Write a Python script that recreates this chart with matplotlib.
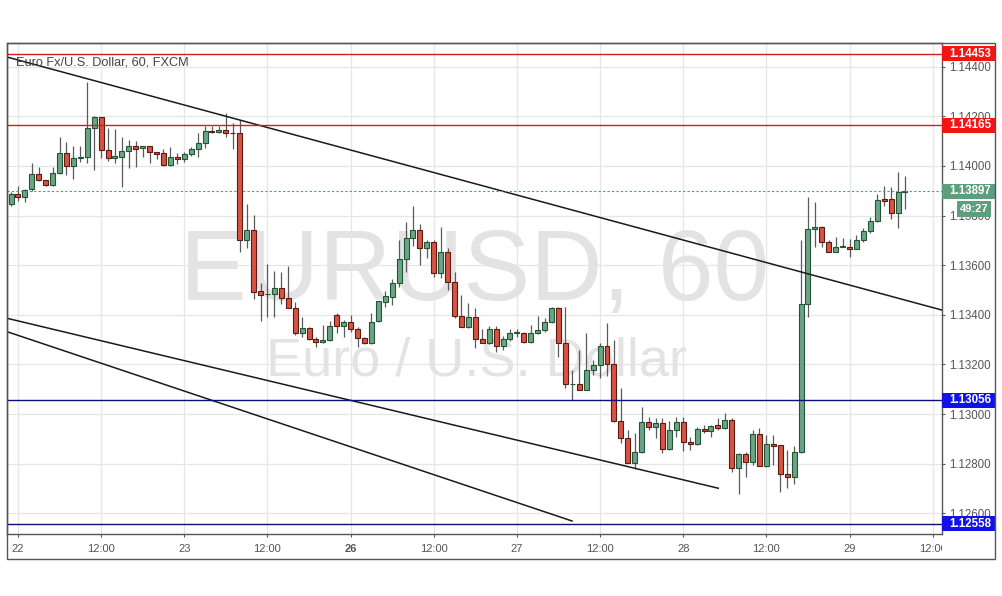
import numpy as np
import matplotlib

matplotlib.use('Agg')

from matplotlib import pyplot as plt
from matplotlib.patches import Rectangle
from matplotlib.transforms import Bbox, TransformedBbox, blended_transform_factory

plt.rcParams['font.family'] = ['Liberation Sans', 'DejaVu Sans']

# hourly EUR/USD candles, 21 23:00 .. 29 08:00
opens = [1.13847, 1.13886, 1.13874, 1.13906, 1.13966, 1.13943, 1.13922, 1.13970, 1.14051, 1.14001,
         1.14032, 1.14035, 1.14152, 1.14196, 1.14064, 1.14031, 1.14037, 1.14060, 1.14080, 1.14071,
         1.14080, 1.14056, 1.14051, 1.14003, 1.14037, 1.14027, 1.14047, 1.14067, 1.14091, 1.14142,
         1.14137, 1.14145, 1.14132, 1.14132, 1.13701, 1.13742, 1.13494, 1.13482, 1.13483, 1.13507,
         1.13467, 1.13426, 1.13325, 1.13346, 1.13302, 1.13289, 1.13298, 1.13398, 1.13355, 1.13372,
         1.13342, 1.13305, 1.13285, 1.13374, 1.13453, 1.13473, 1.13527, 1.13624, 1.13708, 1.13742,
         1.13668, 1.13692, 1.13567, 1.13652, 1.13531, 1.13396, 1.13350, 1.13390, 1.13301, 1.13285,
         1.13342, 1.13276, 1.13301, 1.13327, 1.13328, 1.13289, 1.13325, 1.13337, 1.13370, 1.13426,
         1.13288, 1.13120, 1.13120, 1.13097, 1.13178, 1.13198, 1.13274, 1.13202, 1.12972, 1.12902,
         1.12804, 1.12848, 1.12969, 1.12947, 1.12963, 1.12858, 1.12936, 1.12969, 1.12886, 1.12878,
         1.12938, 1.12930, 1.12956, 1.12942, 1.12976, 1.12781, 1.12838, 1.12805, 1.12919, 1.12792,
         1.12878, 1.12875, 1.12758, 1.12748, 1.12846, 1.13442, 1.13745, 1.13753, 1.13692, 1.13654,
         1.13674, 1.13674, 1.13664, 1.13701, 1.13738, 1.13778, 1.13867, 1.13865, 1.13809, 1.13896]
highs = [1.13895, 1.13920, 1.13907, 1.14012, 1.13997, 1.13943, 1.13997, 1.14118, 1.14098, 1.14082,
         1.14082, 1.14340, 1.14201, 1.14196, 1.14152, 1.14148, 1.14115, 1.14105, 1.14102, 1.14080,
         1.14080, 1.14056, 1.14067, 1.14078, 1.14051, 1.14055, 1.14078, 1.14132, 1.14161, 1.14162,
         1.14162, 1.14212, 1.14172, 1.14185, 1.13847, 1.13802, 1.13527, 1.13605, 1.13578, 1.13571,
         1.13598, 1.13453, 1.13392, 1.13352, 1.13309, 1.13359, 1.13376, 1.13406, 1.13379, 1.13399,
         1.13352, 1.13309, 1.13406, 1.13457, 1.13497, 1.13543, 1.13701, 1.13773, 1.13839, 1.13765,
         1.13701, 1.13701, 1.13755, 1.13668, 1.13574, 1.13480, 1.13446, 1.13426, 1.13342, 1.13355,
         1.13355, 1.13316, 1.13342, 1.13342, 1.13332, 1.13359, 1.13395, 1.13386, 1.13430, 1.13433,
         1.13433, 1.13178, 1.13258, 1.13325, 1.13218, 1.13288, 1.13368, 1.13298, 1.13104, 1.12936,
         1.12922, 1.13030, 1.12989, 1.12983, 1.12983, 1.12973, 1.12989, 1.12989, 1.12909, 1.12947,
         1.12956, 1.12956, 1.12983, 1.13005, 1.12983, 1.12842, 1.12848, 1.12936, 1.12942, 1.12915,
         1.12915, 1.12875, 1.12855, 1.12871, 1.13701, 1.13876, 1.13856, 1.13758, 1.13701, 1.13715,
         1.13708, 1.13705, 1.13722, 1.13749, 1.13795, 1.13887, 1.13920, 1.13916, 1.13977, 1.13959]
lows = [1.13839, 1.13859, 1.13856, 1.13900, 1.13940, 1.13920, 1.13920, 1.13968, 1.13964, 1.13946,
        1.14016, 1.14013, 1.13984, 1.14031, 1.14021, 1.14013, 1.13914, 1.13993, 1.13997, 1.14037,
        1.14013, 1.14029, 1.14000, 1.14000, 1.14009, 1.14016, 1.14041, 1.14037, 1.14071, 1.14134,
        1.14132, 1.14115, 1.14069, 1.13654, 1.13668, 1.13464, 1.13376, 1.13392, 1.13392, 1.13444,
        1.13426, 1.13319, 1.13312, 1.13298, 1.13271, 1.13285, 1.13296, 1.13325, 1.13312, 1.13332,
        1.13269, 1.13282, 1.13282, 1.13371, 1.13430, 1.13440, 1.13513, 1.13574, 1.13677, 1.13601,
        1.13628, 1.13552, 1.13547, 1.13500, 1.13386, 1.13350, 1.13346, 1.13265, 1.13285, 1.13282,
        1.13251, 1.13258, 1.13296, 1.13312, 1.13288, 1.13288, 1.13323, 1.13331, 1.13367, 1.13231,
        1.13104, 1.13057, 1.13097, 1.13097, 1.13157, 1.13144, 1.13153, 1.12969, 1.12882, 1.12802,
        1.12777, 1.12844, 1.12936, 1.12902, 1.12844, 1.12855, 1.12909, 1.12852, 1.12855, 1.12875,
        1.12922, 1.12909, 1.12936, 1.12938, 1.12768, 1.12678, 1.12747, 1.12795, 1.12792, 1.12785,
        1.12795, 1.12687, 1.12701, 1.12718, 1.12842, 1.13392, 1.13674, 1.13674, 1.13654, 1.13654,
        1.13672, 1.13632, 1.13664, 1.13695, 1.13731, 1.13773, 1.13839, 1.13785, 1.13751, 1.13826]
closes = [1.13887, 1.13874, 1.13904, 1.13966, 1.13943, 1.13922, 1.13970, 1.14051, 1.14001, 1.14031,
          1.14036, 1.14152, 1.14196, 1.14064, 1.14031, 1.14040, 1.14060, 1.14080, 1.14069, 1.14080,
          1.14055, 1.14049, 1.14003, 1.14035, 1.14027, 1.14047, 1.14068, 1.14091, 1.14141, 1.14136,
          1.14145, 1.14132, 1.14131, 1.13701, 1.13742, 1.13493, 1.13479, 1.13484, 1.13507, 1.13467,
          1.13426, 1.13325, 1.13346, 1.13301, 1.13289, 1.13298, 1.13356, 1.13355, 1.13372, 1.13342,
          1.13305, 1.13285, 1.13373, 1.13454, 1.13474, 1.13527, 1.13624, 1.13708, 1.13742, 1.13668,
          1.13692, 1.13567, 1.13652, 1.13531, 1.13396, 1.13350, 1.13390, 1.13301, 1.13285, 1.13342,
          1.13276, 1.13301, 1.13328, 1.13329, 1.13289, 1.13325, 1.13339, 1.13370, 1.13426, 1.13288,
          1.13120, 1.13121, 1.13097, 1.13178, 1.13198, 1.13274, 1.13202, 1.12972, 1.12902, 1.12804,
          1.12848, 1.12969, 1.12947, 1.12963, 1.12858, 1.12936, 1.12969, 1.12886, 1.12878, 1.12938,
          1.12930, 1.12953, 1.12942, 1.12976, 1.12781, 1.12838, 1.12805, 1.12919, 1.12792, 1.12878,
          1.12873, 1.12757, 1.12748, 1.12846, 1.13442, 1.13745, 1.13753, 1.13692, 1.13654, 1.13674,
          1.13675, 1.13664, 1.13701, 1.13738, 1.13778, 1.13863, 1.13860, 1.13809, 1.13895, 1.13897]

tick_pos = [1, 13, 25, 37, 49, 61, 73, 85, 97, 109, 121, 133]
tick_labels = ['22', '12:00', '23', '12:00', '26', '12:00', '27', '12:00', '28', '12:00', '29', '12:00']
price_ticks = [1.126, 1.128, 1.130, 1.132, 1.134, 1.136, 1.138, 1.140, 1.142, 1.144]

red_levels = [1.14453, 1.14165]
blue_levels = [1.13056, 1.12558]
last_price = 1.13897
countdown = '49:27'

# trend lines as (index0, price0, index1, price1)
trend_lines = [(-0.58, 1.14439, 134.34, 1.13419),
               (-0.58, 1.13386, 102.06, 1.12701),
               (-0.58, 1.13332, 80.95, 1.12569)]

o = np.array(opens)
h = np.array(highs)
l = np.array(lows)
c = np.array(closes)
x = np.arange(len(o))
up = c >= o

fig = plt.figure(figsize=(10.02, 5.96), dpi=100)
ax = fig.add_axes([7 / 1002, 61.7 / 596, 935 / 1002, 491 / 596])
ax.set_xlim(-0.58, 134.34)
ax.set_ylim(1.125153, 1.144943)

ax.set_axisbelow(True)
ax.grid(True, color='#e6e6e6', lw=0.9)

# watermark
ax.text(475 / 1002, (596 - 300) / 596, 'EURUSD, 60', transform=fig.transFigure, fontsize=72,
        color='#e3e3e3', ha='center', va='baseline', zorder=1)
ax.text(477 / 1002, (596 - 376) / 596, 'Euro / U.S. Dollar', transform=fig.transFigure, fontsize=39,
        color='#e3e3e3', ha='center', va='baseline', zorder=1)

# candles
fill = np.where(up, '#6ba583', '#d75442')
edge = np.where(up, '#225437', '#5b1a13')
ax.vlines(x, l, h, colors='#5a5a5a', lw=0.9, zorder=2.8)
body = np.maximum(np.abs(c - o), 0.00002)
ax.bar(x, body, bottom=np.minimum(o, c), width=0.72, color=fill, edgecolor=edge, linewidth=0.8, zorder=3)

for x0, p0, x1, p1 in trend_lines:
    ax.plot([x0, x1], [p0, p1], color='#1a1a1a', lw=1.1, zorder=4, clip_on=True)

for lvl in red_levels:
    ax.axhline(lvl, color='#d81b1b', lw=1, zorder=4)
for lvl in blue_levels:
    ax.axhline(lvl, color='#0d0d80', lw=1, zorder=4)
ax.axhline(last_price, color='#4f9a78', lw=0.8, ls=(0, (2, 2)), zorder=4)

# axes styling
for s in ax.spines.values():
    s.set_color('#555555')
    s.set_linewidth(1)
ax.yaxis.tick_right()
ax.set_yticks(price_ticks)
ax.set_yticklabels(['%.5f' % p for p in price_ticks])
ax.tick_params(axis='y', length=2.5, color='#555555', labelsize=8.3, labelcolor='#555555', pad=2.5)
ax.set_xticks(tick_pos)
ax.set_xticklabels(tick_labels)
ax.tick_params(axis='x', length=2.5, color='#555555', labelsize=8, labelcolor='#555555', pad=4.5)
clip = TransformedBbox(Bbox([[0, -1], [1, 1]]), ax.transAxes)
for lbl in ax.get_xticklabels():
    lbl.set_clip_box(clip)
    lbl.set_clip_on(True)
    if lbl.get_text() == '26':
        lbl.set_fontweight('bold')

trans = blended_transform_factory(ax.transAxes, ax.transData)
ax.text(9 / 935, 1.14418, 'Euro Fx/U.S. Dollar, 60, FXCM', transform=trans,
        fontsize=9.2, color='#444444', va='center', ha='left', zorder=6)

# price labels on the right axis
half = 7.5 / 24811
box_w = 53 / 935
for lvls, col in ((red_levels, '#f41414'), (blue_levels, '#1212e8')):
    for lvl in lvls:
        ax.add_patch(Rectangle((1.0, lvl - half), box_w, 2 * half, transform=trans, clip_on=False,
                               facecolor=col, edgecolor='none', zorder=10))
        ax.text(1.0 + 7 / 935, lvl, '%.5f' % lvl, transform=trans, color='white', fontsize=8.3,
                fontweight='bold', va='center', ha='left', zorder=11, clip_on=False)

ax.add_patch(Rectangle((1.0, last_price - half), box_w, 2 * half, transform=trans, clip_on=False,
                       facecolor='#5d9e7d', edgecolor='none', zorder=10))
ax.text(1.0 + 7 / 935, last_price, '%.5f' % last_price, transform=trans, color='white', fontsize=8.3,
        fontweight='bold', va='center', ha='left', zorder=11, clip_on=False)
cd = last_price - 17.5 / 24811
ax.add_patch(Rectangle((1.0 + 15 / 935, cd - 8 / 24811), 34 / 935, 16 / 24811, transform=trans, clip_on=False,
                       facecolor='#5d9e7d', edgecolor='none', zorder=10))
ax.text(1.0 + 32 / 935, cd, countdown, transform=trans, color='white', fontsize=8,
        fontweight='bold', va='center', ha='center', zorder=11, clip_on=False)

# outer frame around plot, price scale and time scale
fig.add_artist(Rectangle((7 / 1002, 37 / 596), 988 / 1002, 516 / 596, transform=fig.transFigure,
                         fill=False, edgecolor='#555555', lw=1))

plt.savefig('out.png', dpi=100, facecolor='white')
